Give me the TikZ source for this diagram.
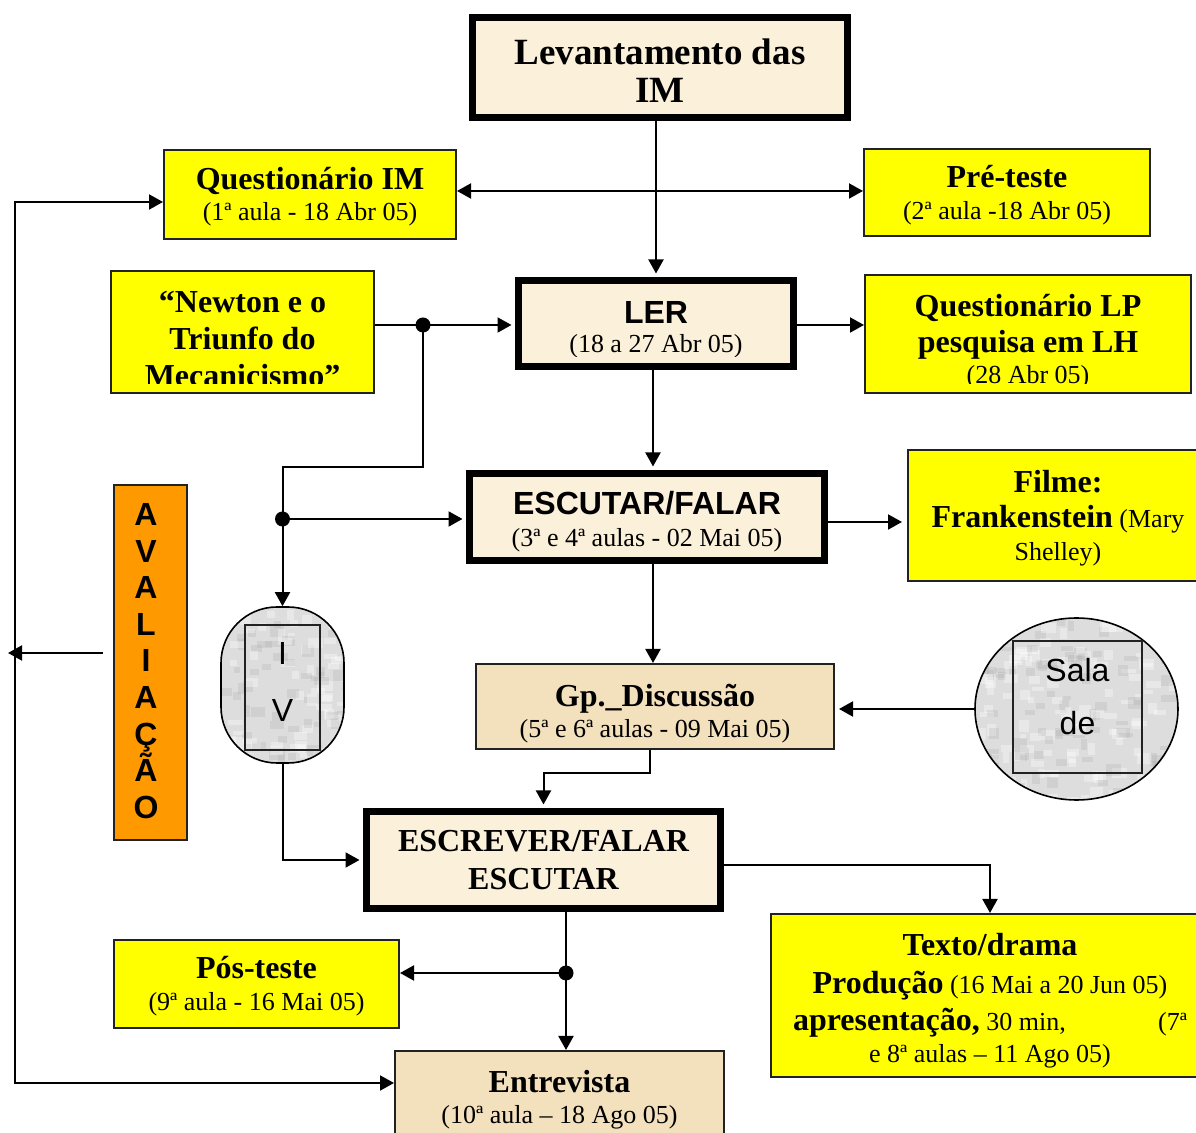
\documentclass[tikz,border=0pt]{standalone}
\usepackage{fontspec}
\setmainfont{Liberation Serif}
\newfontfamily\arialfont{Liberation Sans}
\usetikzlibrary{arrows.meta,shapes.geometric,calc}

\definecolor{boxyellow}{HTML}{FFFF00}
\definecolor{parchlight}{HTML}{FBF0DA}
\definecolor{parchdark}{HTML}{F3E0BC}
\definecolor{avalorange}{HTML}{FF9900}
\definecolor{marble}{HTML}{DDDDDD}
\definecolor{rim}{HTML}{222222}

\newcommand\titlefont{\fontsize{16}{18.5}\selectfont\bfseries}
\newcommand\datefont{\fontsize{13}{15.5}\selectfont}
\newcommand\sansbold{\arialfont\bfseries\fontsize{16}{18}\selectfont}

% grey mottled pattern for the round "room" shapes: #1 width, #2 height, #3 flecks
\newcommand\mottle[3]{%
  \foreach \k in {1,...,#3}{%
    \pgfmathsetmacro\mx{#1*rnd}%
    \pgfmathsetmacro\my{#2*rnd}%
    \pgfmathsetmacro\mw{6+10*rnd}%
    \pgfmathsetmacro\mh{4+8*rnd}%
    \pgfmathtruncatemacro\mg{rnd*100}%
    \ifnum\mg<55
      \fill[sharp corners, white, opacity=0.35] ($(path picture bounding box.north west)+(\mx,\my)$) rectangle ++(\mw,\mh);
    \else
      \fill[sharp corners, black!40, opacity=0.18] ($(path picture bounding box.north west)+(\mx,\my)$) rectangle ++(\mw,\mh);
    \fi
  }}

\begin{document}
\begin{tikzpicture}[x=0.5pt,y=-0.5pt,
  yellowbox/.style={draw=rim, line width=1pt, fill=boxyellow, inner sep=0pt},
  mainbox/.style={draw=black, line width=3.5pt, fill=parchlight, inner sep=0pt},
  paperbox/.style={draw=rim, line width=1pt, fill=parchdark, inner sep=0pt},
  txt/.style={align=center, inner sep=0pt, font=\datefont},
  conn/.style={line width=1pt, -{Triangle[length=7pt,width=7.5pt]}},
  twoway/.style={line width=1pt, {Triangle[length=7pt,width=7.5pt]}-{Triangle[length=7pt,width=7.5pt]}},
  junction/.style={circle, fill=black, inner sep=0pt, minimum size=7.5pt},
  marblefill/.style={fill=marble, draw=black, line width=0.8pt}
]
\useasboundingbox (0,0) rectangle (1196,1133);
\clip (0,0) rectangle (1196,1133);
\pgfmathsetseed{11}

% ---- boxes ----
\node[mainbox, minimum width=187.5pt, minimum height=50pt] (lev) at (660,67.5) {};
\node[txt, font=\fontsize{18.5}{19}\selectfont\bfseries] (lev-t) at (660,71) {Levantamento das\\IM};

\node[yellowbox, minimum width=146pt, minimum height=44.5pt] (qim) at (310,194.5) {};
\node[txt] (qim-t) at (310,197) {{\titlefont Questionário IM}\\(1ª aula - 18 Abr 05)};

\node[yellowbox, minimum width=143pt, minimum height=43.5pt] (pre) at (1007,192.5) {};
\node[txt] (pre-t) at (1007,195) {{\titlefont Pré-teste}\\[0.5pt](2ª aula -18 Abr 05)};

\node[yellowbox, minimum width=131.5pt, minimum height=61pt] (newton) at (242.5,332) {};
\begin{scope}
  \clip (newton.north west) rectangle ([yshift=5pt]newton.south east);
  \node[txt, font=\titlefont] (newton-t) at (242.5,339) {“Newton e o\\Triunfo do\\Mecanicismo”};
\end{scope}

\node[mainbox, minimum width=137.5pt, minimum height=43pt] (ler) at (656,323.5) {};
\begin{scope}
  \clip (ler.north west) rectangle ([yshift=6.5pt]ler.south east);
  \node[txt] (ler-t) at (656,330) {{\sansbold LER}\\[-1pt](18 a 27 Abr 05)};
\end{scope}

\node[yellowbox, minimum width=163pt, minimum height=59pt] (qlp) at (1028,334) {};
\begin{scope}
  \clip (qlp.north west) rectangle ([yshift=5pt]qlp.south east);
  \node[txt] (qlp-t) at (1028,342) {{\titlefont Questionário LP}\\[2.5pt]{\titlefont pesquisa em LH}\\(28 Abr 05)};
\end{scope}

\node[mainbox, minimum width=177.5pt, minimum height=43.5pt] (esc) at (647,517) {};
\node[txt] (esc-t) at (647,522) {{\sansbold ESCUTAR/FALAR}\\[0.5pt](3ª e 4ª aulas - 02 Mai 05)};

\node[yellowbox, minimum width=151pt, minimum height=65.5pt] (film) at (1059,515.5) {};
\node[txt] (film-t) at (1058,518) {{\titlefont Filme:}\\[2pt]{\titlefont Frankenstein} (Mary\\[1pt]Shelley)};

\node[paperbox, minimum width=179pt, minimum height=42.5pt] (gp) at (655,706.5) {};
\node[txt] (gp-t) at (655,714) {{\titlefont Gp.\_Discussão}\\(5ª e 6ª aulas - 09 Mai 05)};

\node[ellipse, marblefill, minimum width=101.5pt, minimum height=91pt, inner sep=0pt,
      path picture={\mottle{203}{182}{220}}] (sala) at (1076.5,709) {};
\node[draw=rim, line width=0.8pt, minimum width=64.5pt, minimum height=66pt, inner sep=0pt] (sala-in) at (1077.5,707) {};
\node[txt, font=\arialfont\fontsize{16}{26.5}\selectfont] (sala-t) at (1077.5,697) {Sala\\de};

\node[marblefill, rounded corners=28pt, minimum width=61.5pt, minimum height=78pt, inner sep=0pt,
      path picture={\mottle{123}{156}{120}}] (iv) at (282.5,685) {};
\node[draw=rim, line width=0.8pt, minimum width=37.5pt, minimum height=62.5pt, inner sep=0pt] (iv-in) at (282.5,687.5) {};
\node[txt, font=\arialfont\fontsize{16}{28.5}\selectfont] (iv-t) at (282.5,682) {I\\V};

\node[mainbox, minimum width=177pt, minimum height=48.5pt] (escr) at (543.5,860) {};
\node[txt, font=\titlefont] (escr-t) at (543.5,860) {ESCREVER/FALAR\\[0.5pt]ESCUTAR};

\node[yellowbox, minimum width=219pt, minimum height=81.5pt] (texto) at (990,995.5) {};
\node[txt] (texto-t) at (990,1000.5) {{\titlefont Texto/drama}\\[3.5pt]{\titlefont Produção} (16 Mai a 20 Jun 05)\\[3pt]\makebox[197pt]{{\titlefont apresentação,} 30 min,\hfill(7ª}\\[0.5pt]e 8ª aulas – 11 Ago 05)};

\node[yellowbox, minimum width=142.5pt, minimum height=44pt] (pos) at (256.5,984) {};
\node[txt] (pos-t) at (256.5,986) {{\titlefont Pós-teste}\\[0.5pt](9ª aula - 16 Mai 05)};

\node[paperbox, minimum width=164.5pt, minimum height=54.5pt] (ent) at (559.5,1105.5) {};
\node[txt] (ent-t) at (559.5,1099.5) {{\titlefont Entrevista}\\(10ª aula – 18 Ago 05)};

\node[draw=rim, line width=1pt, fill=avalorange, minimum width=36.5pt, minimum height=177.5pt, inner sep=0pt] (aval) at (150.5,662.5) {};
\node[txt, font=\arialfont\bfseries\fontsize{16}{18.3}\selectfont] (aval-t) at (146,661) {A\\V\\A\\L\\I\\A\\Ç\\Ã\\O};

% ---- junctions and bend points ----
\node[junction] (j1) at (423,325) {};
\node[junction] (j2) at (282.5,519) {};
\node[junction] (j3) at (566,973) {};
\coordinate (qp) at (660,191);
\coordinate (b1) at (423,467);
\coordinate (col) at (653,420);
\coordinate (ef) at (866,522);
\coordinate (b2) at (650,773);
\coordinate (b4) at (990,865);
\coordinate (fbT) at (15,202);
\coordinate (fbB) at (15,1083);
\coordinate (avL) at (8,653);
\path (aval.west |- avL) ++(-10,0) coordinate (avR);

% ---- connectors ----
\draw[conn, shorten >=1.75pt] (lev.south -| ler.north) -- (ler.north);
\draw[twoway] (qp -| qim.east) -- (qp -| pre.west);
\draw[conn, shorten >=1.75pt] (newton.east |- j1) -- (j1 -| ler.west);
\draw[conn] (ler.east |- j1) -- (j1 -| qlp.west);
\draw[conn] (j1.center) -- (b1) -| (iv.north);
\draw[conn, shorten >=1.75pt] (j2.center) -- (j2 -| esc.west);
\draw[conn, shorten >=1.75pt] (ler.south -| col) -- (esc.north -| col);
\draw[conn, shorten >=2.5pt] (ef -| esc.east) -- (ef -| film.west);
\draw[conn] (esc.south -| col) -- (gp.north -| col);
\draw[conn, shorten >=2pt] (sala.west) -- (sala.west -| gp.east);
\draw[conn, shorten >=1.75pt] (gp.south -| b2) -- (b2) -| (escr.north);
\draw[conn, shorten >=1.75pt] (iv.south) |- (escr.west);
\draw[conn] (b4 -| escr.east) -- (b4) -- (texto.north);
\draw[conn] (escr.south -| j3) -- (ent.north -| j3);
\draw[conn] (j3.center) -- (j3 -| pos.east);
\draw[twoway] (fbT -| qim.west) -- (fbT) -- (fbB) -- (fbB -| ent.west);
\draw[conn] (avR) -- (avL);
\end{tikzpicture}
\end{document}
